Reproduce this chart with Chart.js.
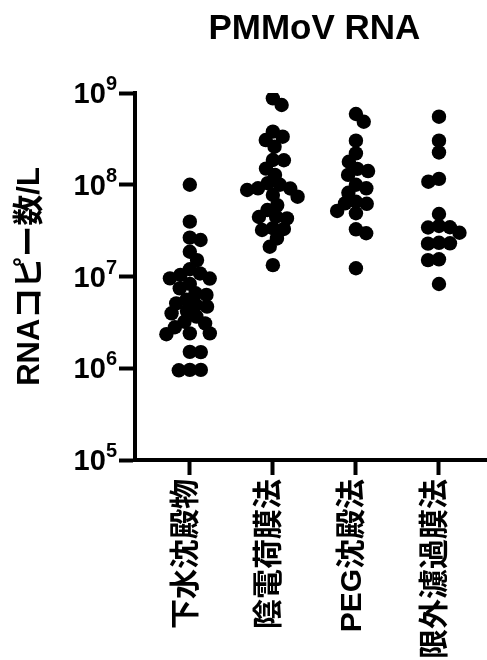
<!DOCTYPE html>
<html>
<head>
<meta charset="utf-8">
<script src="https://cdn.jsdelivr.net/npm/chart.js@4/dist/chart.umd.min.js"></script>
<style>
  html, body { margin: 0; padding: 0; background: #fff; overflow: hidden; }
  #wrap { width: 487px; height: 660px; overflow: hidden; position: relative; }
  canvas { display: block; }
</style>
</head>
<body>
<div id="wrap"><canvas id="c" width="501" height="660"></canvas></div>
<script>
// ---- data (RNA copies / L) ----
const categories = ['下水沈殿物', '陰電荷膜法', 'PEG沈殿法', '限外濾過膜法'];
const sewageSolids = [1.0e8, 3.96e7, 2.5e7, 2.65e7, 1.86e7, 1.51e7, 1.2e7, 1.08e7, 1.04e7, 9.55e6, 9.5e6,
  8.3e6, 7.43e6, 6.56e6, 6.3e6, 5.6e6, 5.1e6, 4.89e6, 4.69e6, 4.2e6, 3.97e6, 3.65e6, 3.21e6, 3.08e6,
  2.8e6, 2.4e6, 2.4e6, 2.35e6, 1.51e6, 1.5e6, 9.6e5, 9.5e5, 9.6e5];
const negChargedMembrane = [8.75e8, 7.4e8, 3.79e8, 3.34e8, 3.07e8, 2.6e8, 1.86e8, 1.85e8, 1.5e8, 1.28e8,
  1.04e8, 1.0e8, 9.15e7, 9.1e7, 8.77e7, 7.73e7, 7.41e7, 6.0e7, 5.31e7, 4.49e7, 4.45e7, 4.3e7, 3.36e7,
  3.3e7, 3.21e7, 2.6e7, 2.11e7, 1.33e7];
const pegPrecipitation = [5.9e8, 4.86e8, 3.02e8, 2.2e8, 1.78e8, 1.49e8, 1.41e8, 1.28e8, 1.0e8, 9.15e7,
  8.18e7, 6.53e7, 6.28e7, 6.2e7, 5.18e7, 4.89e7, 3.27e7, 2.96e7, 1.23e7];
const ultrafiltration = [5.52e8, 3.02e8, 2.25e8, 1.16e8, 1.08e8, 4.8e7, 3.55e7, 3.44e7, 3.42e7, 3.0e7,
  2.33e7, 2.30e7, 2.28e7, 1.54e7, 1.51e7, 8.28e6];
const yTickValues = [1e5, 1e6, 1e7, 1e8, 1e9];
const yTickBase = '10';
const yTickExponents = ['5', '6', '7', '8', '9'];
const chartTitle = 'PMMoV RNA';
const yAxisTitle = 'RNAコピー数/L';

const groups = [sewageSolids, negChargedMembrane, pegPrecipitation, ultrafiltration];

const FONT = "'Liberation Sans', 'Noto Sans CJK JP', Arial, sans-serif";
Chart.defaults.font.family = FONT;
Chart.defaults.color = '#000';

// draws y tick labels as 10 with a raised exponent
const powerLabels = {
  id: 'powerLabels',
  afterDraw(chart) {
    const ys = chart.scales.y;
    const ctx = chart.ctx;
    const right = ys.right - 16 - 2;
    ctx.save();
    ctx.fillStyle = '#000';
    ctx.textBaseline = 'alphabetic';
    yTickValues.forEach((v, i) => {
      const py = ys.getPixelForValue(v);
      ctx.font = 'bold 20px ' + FONT;
      ctx.textAlign = 'right';
      const expW = ctx.measureText(yTickExponents[i]).width;
      ctx.fillText(yTickExponents[i], right, py - 3);
      ctx.font = 'bold 29px ' + FONT;
      ctx.fillText(yTickBase, right - expW, py + 10);
    });
    ctx.restore();
  }
};

const chart = new Chart(document.getElementById('c'), {
  type: 'scatter',
  data: {
    datasets: groups.map((vals, gi) => ({
      label: categories[gi],
      data: vals.map(v => ({ x: gi, y: v })),
      backgroundColor: '#000',
      borderColor: '#000',
      borderWidth: 0,
      pointRadius: 7.2,
      pointHoverRadius: 7.2
    }))
  },
  options: {
    responsive: false,
    animation: false,
    devicePixelRatio: 1,
    layout: { padding: 0 },
    plugins: {
      legend: { display: false },
      tooltip: { enabled: false },
      title: {
        display: true,
        text: chartTitle,
        fullSize: false,
        color: '#000',
        font: { family: FONT, size: 35, weight: 'bold' },
        padding: { top: 8, bottom: 43 }
      }
    },
    scales: {
      x: {
        type: 'linear',
        min: -0.66,
        max: 3.66,
        afterBuildTicks: s => { s.ticks = categories.map((c, i) => ({ value: i })); },
        afterFit: s => { s.height = 200; },
        ticks: {
          autoSkip: false,
          minRotation: 90,
          maxRotation: 90,
          padding: 4,
          labelOffset: -3,
          color: '#000',
          font: { family: FONT, size: 30, weight: 'bold' },
          callback: v => categories[v]
        },
        grid: {
          drawOnChartArea: false,
          drawTicks: true,
          tickLength: 15,
          tickWidth: 4,
          tickColor: '#000'
        },
        border: { display: true, color: '#000', width: 4 }
      },
      y: {
        type: 'logarithmic',
        min: 1e5,
        max: 1e9,
        afterBuildTicks: s => { s.ticks = yTickValues.map(v => ({ value: v })); },
        afterFit: s => { s.width = 135; },
        ticks: {
          display: false,
          callback: (v) => yTickBase + '^' + yTickExponents[yTickValues.indexOf(v)]
        },
        grid: {
          drawOnChartArea: false,
          drawTicks: true,
          tickLength: 16,
          tickWidth: 4,
          tickColor: '#000'
        },
        border: { display: true, color: '#000', width: 4 },
        title: {
          display: true,
          text: yAxisTitle,
          color: '#000',
          font: { family: FONT, size: 31, weight: 'bold' },
          padding: { top: 12, bottom: 0 }
        }
      }
    }
  },
  plugins: [powerLabels]
});

// beeswarm layout of the points within each category (computed in pixel space)
(function swarm() {
  const xs = chart.scales.x, ys = chart.scales.y;
  const unit = xs.getPixelForValue(1) - xs.getPixelForValue(0);
  const d = 11;
  chart.data.datasets.forEach((ds, gi) => {
    const vals = groups[gi];
    const order = vals.map((v, i) => i).sort((a, b) => vals[b] - vals[a]);
    const placed = [];
    const offs = new Array(vals.length).fill(0);
    let flip = 1;
    order.forEach(i => {
      const py = ys.getPixelForValue(vals[i]);
      const near = placed.filter(p => Math.abs(p.y - py) < d);
      const cands = [0];
      near.forEach(p => {
        const dx = Math.sqrt(d * d - (p.y - py) ** 2);
        cands.push(p.x - dx, p.x + dx);
      });
      cands.sort((a, b) => (Math.abs(a) - Math.abs(b)) || (flip * (a - b)));
      const ok = c => near.every(p => (p.x - c) ** 2 + (p.y - py) ** 2 >= d * d - 0.01);
      const x = cands.find(ok);
      flip = -flip;
      placed.push({ x, y: py });
      offs[i] = x;
    });
    ds.data = vals.map((v, i) => ({ x: gi + offs[i] / unit, y: v }));
  });
  chart.update('none');
})();
</script>
</body>
</html>
